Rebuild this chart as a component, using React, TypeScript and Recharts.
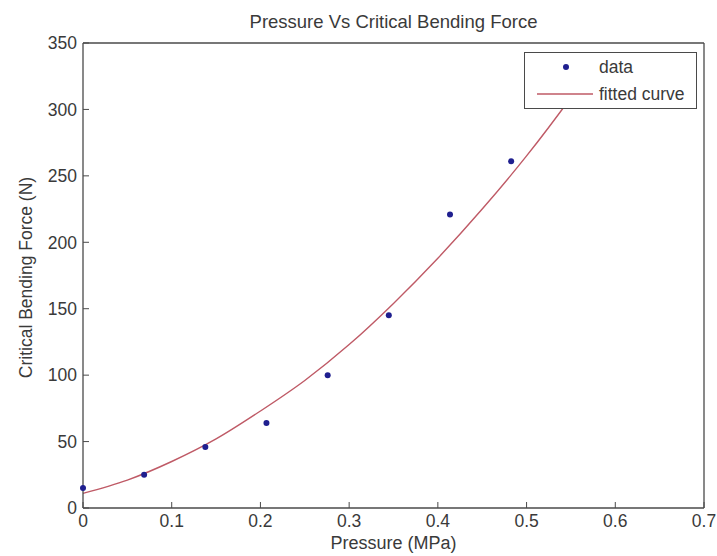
import { ComposedChart, Line, Scatter, XAxis, YAxis, Legend, Label } from "recharts";

// measured points (psi steps converted to MPa)
const pressure = [0, 0.0689, 0.1379, 0.2068, 0.2758, 0.3447, 0.4137, 0.4826];
const force = [15, 25, 46, 64, 100, 145, 221, 261];

// fitted curve
const curvePressure = [0, 0.05, 0.1, 0.15, 0.2, 0.25, 0.3, 0.35, 0.4, 0.45, 0.5, 0.55, 0.58];
const curveForce = [11, 21, 35, 52, 73, 96, 123, 154, 188, 225, 265, 309, 337];

const xTicks = [0, 0.1, 0.2, 0.3, 0.4, 0.5, 0.6, 0.7];
const yTicks = [0, 50, 100, 150, 200, 250, 300, 350];

const points = pressure.map((p, i) => ({ x: p, y: force[i] }));
const curve = curvePressure.map((p, i) => ({ x: p, y: curveForce[i] }));

const FONT = "'Liberation Sans', Arial, sans-serif";
const TEXT = "#3a3a3a";
const AXIS = "#4a4a4a";
const DOT = "#1f1f8f";
const CURVE = "#bf5a66";
const TICK = 6;
const TICK_FS = 17.5;
const LABEL_FS = 18.5;

const BottomTick = ({ x, y, payload }: any) => (
  <g>
    <line x1={x} x2={x} y1={y} y2={y - TICK} stroke={AXIS} />
    <text x={x} y={y + 19} textAnchor="middle" fontSize={TICK_FS} fontFamily={FONT} fill={TEXT}>
      {payload.value}
    </text>
  </g>
);

const TopTick = ({ x, y }: any) => (
  <line x1={x} x2={x} y1={y} y2={y + TICK} stroke={AXIS} />
);

const LeftTick = ({ x, y, payload }: any) => (
  <g>
    <line x1={x} x2={x + TICK} y1={y} y2={y} stroke={AXIS} />
    <text x={x - 6} y={y} dy="0.36em" textAnchor="end" fontSize={TICK_FS} fontFamily={FONT} fill={TEXT}>
      {payload.value}
    </text>
  </g>
);

const RightTick = ({ x, y }: any) => (
  <line x1={x} x2={x - TICK} y1={y} y2={y} stroke={AXIS} />
);

const Dot = ({ cx, cy }: any) => <circle cx={cx} cy={cy} r={3} fill={DOT} />;

const LegendBox = () => (
  <div style={{ width: 171, height: 55, border: `1px solid ${AXIS}`, background: "#fff" }}>
    <svg width={171} height={55}>
      <circle cx={41} cy={14} r={3} fill={DOT} />
      <text x={74} y={14} dy="0.36em" fontSize={TICK_FS} fontFamily={FONT} fill={TEXT}>data</text>
      <line x1={12} x2={68} y1={41} y2={41} stroke={CURVE} strokeWidth={1.5} />
      <text x={74} y={41} dy="0.36em" fontSize={TICK_FS} fontFamily={FONT} fill={TEXT}>fitted curve</text>
    </svg>
  </div>
);

export default function App() {
  return (
    <div style={{ position: "absolute", left: 0, top: 0, background: "#fff" }}>
      <ComposedChart width={717} height={556} margin={{ top: 42, right: 12, left: 0, bottom: 0 }}>
        <XAxis
          dataKey="x"
          type="number"
          domain={[0, 0.7]}
          ticks={xTicks}
          height={48}
          tickSize={0}
          tickMargin={0}
          tickLine={false}
          axisLine={{ stroke: AXIS, strokeWidth: 1.3 }}
          tick={<BottomTick />}
          interval={0}
        >
          <Label
            content={(p: any) => {
              const vb = p.viewBox;
              return (
                <text x={vb.x + vb.width / 2} y={vb.y + 41} textAnchor="middle" fontSize={18} fontFamily={FONT} fill={TEXT}>
                  Pressure (MPa)
                </text>
              );
            }}
          />
        </XAxis>
        <XAxis
          xAxisId="top"
          orientation="top"
          dataKey="x"
          type="number"
          domain={[0, 0.7]}
          ticks={xTicks}
          height={1}
          tickSize={0}
          tickMargin={0}
          tickLine={false}
          axisLine={{ stroke: AXIS, strokeWidth: 1.3 }}
          tick={<TopTick />}
          interval={0}
        >
          <Label
            content={(p: any) => {
              const vb = p.viewBox;
              return (
                <text x={vb.x + vb.width / 2} y={vb.y - 14} textAnchor="middle" fontSize={LABEL_FS} fontFamily={FONT} fill={TEXT}>
                  Pressure Vs Critical Bending Force
                </text>
              );
            }}
          />
        </XAxis>
        <YAxis
          dataKey="y"
          type="number"
          domain={[0, 350]}
          ticks={yTicks}
          width={83}
          tickSize={0}
          tickMargin={0}
          tickLine={false}
          axisLine={{ stroke: AXIS, strokeWidth: 1.3 }}
          tick={<LeftTick />}
          interval={0}
        >
          <Label
            content={(p: any) => {
              const vb = p.viewBox;
              const cy = vb.y + vb.height / 2 + 2;
              return (
                <text
                  x={26}
                  y={cy}
                  transform={`rotate(-90 26 ${cy})`}
                  textAnchor="middle"
                  dominantBaseline="central"
                  fontSize={17.5}
                  fontFamily={FONT}
                  fill={TEXT}
                >
                  Critical Bending Force (N)
                </text>
              );
            }}
          />
        </YAxis>
        <YAxis
          yAxisId="right"
          orientation="right"
          type="number"
          domain={[0, 350]}
          ticks={yTicks}
          width={1}
          tickSize={0}
          tickMargin={0}
          tickLine={false}
          axisLine={{ stroke: AXIS, strokeWidth: 1.3 }}
          tick={<RightTick />}
          interval={0}
        />
        <Line
          data={curve}
          dataKey="y"
          type="monotone"
          stroke={CURVE}
          strokeWidth={1.4}
          dot={false}
          isAnimationActive={false}
        />
        <Scatter data={points} dataKey="y" fill={DOT} shape={<Dot />} isAnimationActive={false} />
        <Legend
          layout="horizontal"
          verticalAlign="middle"
          align="center"
          content={<LegendBox />}
          wrapperStyle={{ position: "absolute", left: 524, top: 52, width: 173, height: 57 }}
        />
      </ComposedChart>
    </div>
  );
}
